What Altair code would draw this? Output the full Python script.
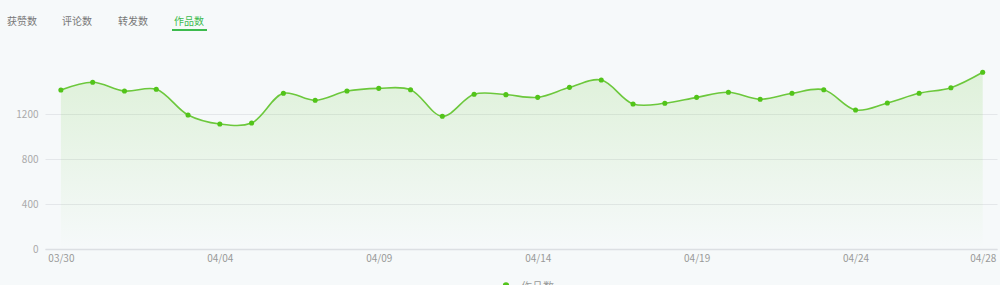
import json
import altair as alt
import pandas as pd

dates = ["03/30", "03/31"] + [f"04/{d:02d}" for d in range(1, 29)]
values = [1413, 1482, 1404, 1420, 1191, 1111, 1120, 1384, 1322, 1404,
          1428, 1416, 1180, 1375, 1372, 1348, 1437, 1502, 1289, 1295,
          1348, 1393, 1331, 1384, 1416, 1236, 1298, 1384, 1434, 1571]
tabs = ["获赞数", "评论数", "转发数", "作品数"]
tick_idx = [0, 5, 10, 15, 20, 25, 29]
y_ticks = [0, 400, 800, 1200]
series_name = "作品数"

df = pd.DataFrame({"i": list(range(len(values))), "date": dates, "v": values})

LINE = "#6cc83c"
DOT = "#52c41a"
FONT = "Noto Sans CJK SC"

label_expr = json.dumps(dates) + "[datum.value]"

x_enc = alt.X("i:Q", scale=alt.Scale(domain=[-0.5, 29.45], nice=False, zero=False),
              axis=alt.Axis(values=tick_idx, labelExpr=label_expr, grid=False, ticks=False,
                            domainColor="#dcdfe3", domainWidth=1.5, labelColor="#999999",
                            labelFontSize=10, labelPadding=4, labelFont=FONT, title=None))
y_enc = alt.Y("v:Q", scale=alt.Scale(domain=[0, 1600], nice=False),
              axis=alt.Axis(values=y_ticks, format="d", grid=True, gridColor="#e4e7ea",
                            domain=False, ticks=False, labelColor="#aaaaaa", labelFontSize=10,
                            labelPadding=7, labelFont=FONT, title=None))

base = alt.Chart(df).encode(x=x_enc, y=y_enc)

area = base.mark_area(
    interpolate="catmull-rom",
    color=alt.Gradient(gradient="linear", x1=0, x2=0, y1=0, y2=1,
                       stops=[alt.GradientStop(color="rgba(100,200,50,0.16)", offset=0),
                              alt.GradientStop(color="rgba(100,200,50,0.0)", offset=1)]),
)
line = base.mark_line(interpolate="catmull-rom", color=LINE, strokeWidth=1.6)
pts = base.mark_circle(color=DOT, size=26, opacity=1)

layers = [area, line, pts]

tab_x = [-23, 32, 88, 144]
for k, t in enumerate(tabs):
    col = "#3dbb4e" if k == 3 else "#777777"
    layers.append(
        alt.Chart(pd.DataFrame({"t": [t]})).mark_text(
            font=FONT, fontSize=10, color=col, align="center", baseline="middle"
        ).encode(x=alt.value(tab_x[k]), y=alt.value(-47.5), text="t:N")
    )

layers.append(
    alt.Chart(pd.DataFrame({"a": [0]})).mark_rule(color="#3dbb4e", strokeWidth=2).encode(
        x=alt.value(127), x2=alt.value(162), y=alt.value(-39)
    )
)

layers.append(
    alt.Chart(pd.DataFrame({"a": [0]})).mark_point(
        shape="circle", filled=True, color=DOT, size=40, opacity=1
    ).encode(x=alt.value(461), y=alt.value(216.5))
)
layers.append(
    alt.Chart(pd.DataFrame({"t": [series_name]})).mark_text(
        font=FONT, fontSize=11, color="#999999", align="left", baseline="top"
    ).encode(x=alt.value(476), y=alt.value(212.5), text="t:N")
)

chart = alt.layer(*layers).properties(
    width=952, height=180, autosize="none",
    padding={"left": 45, "top": 69, "right": 3, "bottom": 36},
    background="#f6f9fa",
).configure_view(stroke=None)

chart.save("out.html", embed_options={"renderer": "svg", "actions": False})
